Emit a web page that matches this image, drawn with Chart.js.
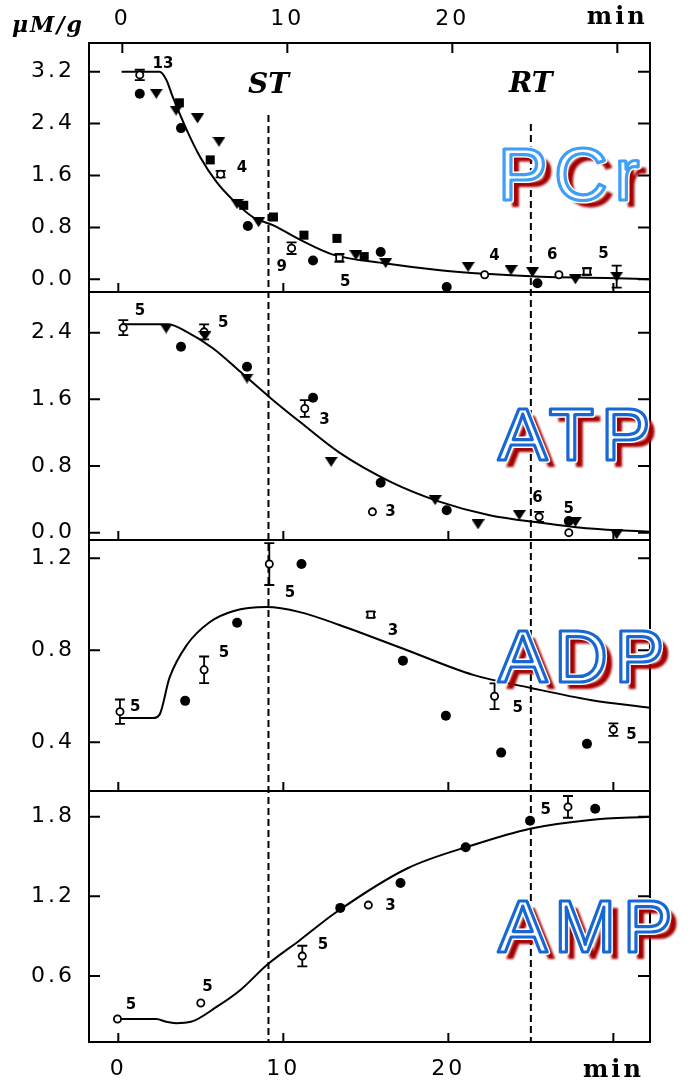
<!DOCTYPE html>
<html>
<head>
<meta charset="utf-8">
<script src="https://cdn.jsdelivr.net/npm/chart.js@4"></script>
<style>
  html, body { margin: 0; padding: 0; background: #fff; }
  #chart { display: block; }
</style>
</head>
<body>
<canvas id="chart" width="698" height="1083"></canvas>
<script>
// --- time axis (min) ---
const timeTicks = [0, 10, 20, 30];
const markerNames = ['ST', 'RT'];
const markerTimes = [9.1, 25.0];

// --- PCr ---
const pcrTicks = [0.0, 0.8, 1.6, 2.4, 3.2];
const pcrFilledCircles = [[1.3, 2.86], [3.8, 2.33], [7.85, 0.82], [11.8, 0.29], [15.9, 0.42], [19.9, -0.12], [25.4, -0.06]];
const pcrOpenCircles = [[1.3, 3.15], [6.2, 1.62], [10.5, 0.48], [22.2, 0.07], [26.7, 0.07]];
const pcrOpenSquares = [[13.4, 0.33], [28.4, 0.12]];
const pcrTriangles = [[2.3, 2.86], [3.5, 2.6], [4.8, 2.48], [6.1, 2.12], [7.2, 1.16], [8.5, 0.88], [14.4, 0.37], [16.2, 0.25], [21.2, 0.19], [23.8, 0.14], [25.1, 0.11], [27.7, 0.0], [30.2, 0.04]];
const pcrFilledSquares = [[3.7, 2.72], [5.57, 1.84], [7.6, 1.14], [9.4, 0.96], [11.25, 0.68], [13.25, 0.63], [14.9, 0.35]];
const pcrErrors = [[1.3, 3.15, 0.08], [6.2, 1.62, 0.05], [10.5, 0.48, 0.09], [13.4, 0.33, 0.06], [28.4, 0.12, 0.05], [30.2, 0.04, 0.17]];
const pcrCounts = [[2.71, 3.32, '13'], [7.49, 1.71, '4'], [9.9, 0.19, '9'], [13.75, -0.04, '5'], [22.8, 0.35, '4'], [26.3, 0.37, '6'], [29.4, 0.39, '5']];
const pcrFitTime = [0.2, 2.5, 2.9, 3.3, 4.15, 4.95, 5.95, 6.95, 8.15, 9.4, 11.0, 13.0, 16.0, 19.5, 22.5, 25.6, 29.6, 32.2];
const pcrFitValue = [3.2, 3.2, 3.08, 2.81, 2.30, 1.89, 1.50, 1.22, 0.96, 0.83, 0.61, 0.38, 0.25, 0.14, 0.08, 0.04, 0.02, 0.0];

// --- ATP ---
const atpTicks = [0.0, 0.8, 1.6, 2.4];
const atpFilledCircles = [[3.8, 2.23], [7.8, 1.99], [11.8, 1.62], [15.9, 0.60], [19.9, 0.27], [27.3, 0.14]];
const atpOpenCircles = [[0.3, 2.46], [5.2, 2.41], [11.3, 1.49], [15.4, 0.25], [25.5, 0.19], [27.3, 0.0]];
const atpTriangles = [[2.9, 2.45], [5.25, 2.36], [7.8, 1.85], [12.9, 0.85], [19.2, 0.39], [21.8, 0.10], [24.3, 0.21], [27.7, 0.13], [30.2, -0.02]];
const atpErrors = [[0.3, 2.46, 0.09], [5.2, 2.41, 0.09], [11.3, 1.49, 0.1], [25.5, 0.19, 0.06]];
const atpCounts = [[1.32, 2.66, '5'], [6.35, 2.52, '5'], [12.5, 1.35, '3'], [16.5, 0.25, '3'], [25.4, 0.42, '6'], [27.3, 0.28, '5']];
const atpFitTime = [0.2, 3.0, 4.15, 5.75, 7.4, 9.2, 11.0, 13.4, 16.5, 19.5, 22.5, 25.6, 28.6, 32.2];
const atpFitValue = [2.50, 2.50, 2.41, 2.21, 1.93, 1.62, 1.33, 0.96, 0.61, 0.37, 0.21, 0.12, 0.05, 0.01];

// --- ADP ---
const adpTicks = [0.4, 0.8, 1.2];
const adpFilledCircles = [[4.05, 0.58], [7.2, 0.92], [11.1, 1.175], [17.25, 0.755], [19.85, 0.515], [23.2, 0.355], [28.4, 0.393]];
const adpOpenCircles = [[0.1, 0.533], [5.2, 0.715], [9.15, 1.175], [22.8, 0.60], [30.0, 0.455]];
const adpOpenSquares = [[15.3, 0.955]];
const adpErrors = [[0.1, 0.533, 0.053], [5.2, 0.715, 0.058], [9.15, 1.175, 0.091], [15.3, 0.955, 0.012], [22.8, 0.60, 0.056], [30.0, 0.455, 0.027]];
const adpCounts = [[1.02, 0.553, '5'], [6.4, 0.788, '5'], [10.4, 1.049, '5'], [16.65, 0.884, '3'], [24.2, 0.55, '5'], [31.1, 0.432, '5']];
const adpFitTime = [0.1, 2.1, 2.5, 3.1, 4.15, 5.55, 6.95, 9.0, 11.0, 13.4, 17.5, 21.5, 24.95, 28.6, 32.2];
const adpFitValue = [0.505, 0.505, 0.52, 0.68, 0.823, 0.923, 0.97, 0.988, 0.966, 0.91, 0.80, 0.693, 0.637, 0.584, 0.55];

// --- AMP ---
const ampTicks = [0.6, 1.2, 1.8];
const ampFilledCircles = [[13.45, 1.113], [17.1, 1.30], [21.05, 1.57], [24.95, 1.77], [28.9, 1.86]];
const ampOpenCircles = [[-0.05, 0.276], [5.0, 0.397], [11.15, 0.75], [15.15, 1.134], [27.25, 1.874]];
const ampErrors = [[11.15, 0.75, 0.078], [27.25, 1.874, 0.082]];
const ampCounts = [[0.77, 0.382, '5'], [5.4, 0.517, '5'], [12.4, 0.834, '5'], [16.5, 1.128, '3'], [25.9, 1.85, '5']];
const ampFitTime = [0, 2.3, 2.9, 3.5, 4.4, 5.95, 7.4, 9.0, 11.0, 13.2, 17.5, 21.5, 24.95, 28.6, 32.2];
const ampFitValue = [0.276, 0.276, 0.255, 0.245, 0.255, 0.367, 0.495, 0.683, 0.87, 1.08, 1.41, 1.587, 1.71, 1.776, 1.80];

// flattened downward triangle used as a point image
function downTriangle(w, h) {
  const c = document.createElement('canvas');
  c.width = w; c.height = h;
  const g = c.getContext('2d');
  g.fillStyle = '#000';
  g.beginPath();
  g.moveTo(0, 0); g.lineTo(w, 0); g.lineTo(w / 2, h); g.closePath();
  g.fill();
  return c;
}
const triangleImg = downTriangle(13, 10);

const toPoints = rows => rows.map(r => ({ x: r[0], y: r[1] }));

// marker styles
const styles = {
  filledCircle: { pointStyle: 'circle', pointRadius: 5, pointBackgroundColor: '#000', pointBorderColor: '#000', pointBorderWidth: 0 },
  openCircle: { pointStyle: 'circle', pointRadius: 3.6, pointBackgroundColor: '#fff', pointBorderColor: '#000', pointBorderWidth: 1.8 },
  filledSquare: { pointStyle: 'rect', pointRadius: 6.4, pointBackgroundColor: '#000', pointBorderColor: '#000', pointBorderWidth: 0 },
  openSquare: { pointStyle: 'rect', pointRadius: 4.6, pointBackgroundColor: '#fff', pointBorderColor: '#000', pointBorderWidth: 1.8 },
  triangle: { pointStyle: triangleImg, pointRadius: 6 }
};

function markers(rows, yAxisID, style) {
  return Object.assign({ type: 'scatter', data: toPoints(rows), yAxisID, xAxisID: 'x', order: 0 }, styles[style]);
}

function fitLine(times, values, yAxisID) {
  return {
    type: 'line', yAxisID, xAxisID: 'x', order: 1,
    data: times.map((t, i) => ({ x: t, y: values[i] })),
    borderColor: '#000', borderWidth: 2, pointRadius: 0,
    cubicInterpolationMode: 'monotone', fill: false
  };
}

const panels = [
  { id: 'yPCr', name: 'PCr', blue: '#3f9ef6', errors: pcrErrors, counts: pcrCounts, tagLift: 92 },
  { id: 'yATP', name: 'ATP', blue: '#1768d4', errors: atpErrors, counts: atpCounts, tagLift: 80 },
  { id: 'yADP', name: 'ADP', blue: '#1768d4', errors: adpErrors, counts: adpCounts, tagLift: 109 },
  { id: 'yAMP', name: 'AMP', blue: '#1768d4', errors: ampErrors, counts: ampCounts, tagLift: 90 }
];

const datasets = [
  fitLine(pcrFitTime, pcrFitValue, 'yPCr'),
  markers(pcrFilledCircles, 'yPCr', 'filledCircle'),
  markers(pcrTriangles, 'yPCr', 'triangle'),
  markers(pcrFilledSquares, 'yPCr', 'filledSquare'),
  markers(pcrOpenCircles, 'yPCr', 'openCircle'),
  markers(pcrOpenSquares, 'yPCr', 'openSquare'),

  fitLine(atpFitTime, atpFitValue, 'yATP'),
  markers(atpFilledCircles, 'yATP', 'filledCircle'),
  markers(atpTriangles, 'yATP', 'triangle'),
  markers(atpOpenCircles, 'yATP', 'openCircle'),

  fitLine(adpFitTime, adpFitValue, 'yADP'),
  markers(adpFilledCircles, 'yADP', 'filledCircle'),
  markers(adpOpenCircles, 'yADP', 'openCircle'),
  markers(adpOpenSquares, 'yADP', 'openSquare'),

  fitLine(ampFitTime, ampFitValue, 'yAMP'),
  markers(ampFilledCircles, 'yAMP', 'filledCircle'),
  markers(ampOpenCircles, 'yAMP', 'openCircle')
];

const numFont = { family: '"DejaVu Sans"', size: 22 };
const minFont = { family: '"DejaVu Serif"', size: 24, weight: 'bold' };

// one vertical axis per panel, all stacked on the left
function panelAxis(min, max, ticks, stackWeight, weight) {
  return {
    type: 'linear', position: 'left', stack: 'panels', stackWeight, weight,
    min, max,
    afterBuildTicks: s => { s.ticks = ticks.map(v => ({ value: v })); },
    afterFit: s => { s.width = 89; },
    grid: { display: false, drawTicks: false },
    border: { display: false },
    ticks: { font: numFont, color: '#000', padding: 14, callback: v => v.toFixed(1) }
  };
}

function timeAxis(position, height, padding, min, max) {
  return {
    type: 'linear', position, min, max,
    afterBuildTicks: s => { s.ticks = timeTicks.map(v => ({ value: v })); },
    afterFit: s => { s.height = height; },
    grid: { display: false, drawTicks: false },
    border: { display: false },
    ticks: {
      color: '#000', padding, maxRotation: 0, autoSkip: false,
      font: ctx => (ctx.tick && ctx.tick.value === 30 ? minFont : numFont),
      callback: v => (v === 30 ? 'min' : String(v))
    }
  };
}

const figurePlugin = {
  id: 'figure',
  beforeDraw(chart) {
    chart.ctx.letterSpacing = '3px'; // wide axis numerals
  },
  beforeDatasetsDraw(chart) {
    const { ctx, chartArea, scales } = chart;
    ctx.letterSpacing = '0px';
    const x = scales.x;

    // dashed ST / RT lines
    ctx.save();
    ctx.strokeStyle = '#000';
    ctx.lineWidth = 2;
    ctx.setLineDash([7, 4]);
    const starts = [72, 81];
    markerTimes.forEach((t, i) => {
      const px = x.getPixelForValue(t);
      ctx.beginPath();
      ctx.moveTo(px, chartArea.top + starts[i]);
      ctx.lineTo(px, chartArea.bottom);
      ctx.stroke();
    });
    ctx.restore();

    // error bars (drawn under the markers)
    ctx.save();
    ctx.strokeStyle = '#000';
    ctx.lineWidth = 1.8;
    panels.forEach(p => {
      const y = scales[p.id];
      p.errors.forEach(([t, v, e]) => {
        const px = x.getPixelForValue(t);
        const y1 = y.getPixelForValue(v + e);
        const y2 = y.getPixelForValue(v - e);
        ctx.beginPath();
        ctx.moveTo(px, y1); ctx.lineTo(px, y2);
        ctx.moveTo(px - 5, y1); ctx.lineTo(px + 5, y1);
        ctx.moveTo(px - 5, y2); ctx.lineTo(px + 5, y2);
        ctx.stroke();
      });
    });
    ctx.restore();
  },
  beforeDatasetDraw(chart, args) {
    // keep each dataset inside its own panel
    const { ctx, chartArea } = chart;
    const y = chart.scales[args.meta.yAxisID];
    ctx.save();
    ctx.beginPath();
    ctx.rect(chartArea.left, y.top, chartArea.right - chartArea.left, y.bottom - y.top);
    ctx.clip();
  },
  afterDatasetDraw(chart) {
    chart.ctx.restore();
  },
  afterDatasetsDraw(chart) {
    const { ctx, chartArea, scales } = chart;
    const x = scales.x;
    const xTop = scales.x2;
    ctx.save();
    ctx.strokeStyle = '#000';
    ctx.lineWidth = 2;
    panels.forEach((p, i) => {
      const y = scales[p.id];
      // panel frame
      ctx.strokeRect(chartArea.left, y.top, chartArea.right - chartArea.left, y.bottom - y.top);
      // inward ticks
      ctx.beginPath();
      y.ticks.forEach(tk => {
        const py = y.getPixelForValue(tk.value);
        ctx.moveTo(chartArea.left, py); ctx.lineTo(chartArea.left + 11, py);
        ctx.moveTo(chartArea.right, py); ctx.lineTo(chartArea.right - 12, py);
      });
      timeTicks.forEach(t => {
        const px = x.getPixelForValue(t);
        ctx.moveTo(px, y.bottom); ctx.lineTo(px, y.bottom - 9);
        if (i === 0) {
          const pt = xTop.getPixelForValue(t);
          ctx.moveTo(pt, y.top); ctx.lineTo(pt, y.top + 10);
        }
      });
      ctx.stroke();

      // sample sizes
      ctx.fillStyle = '#000';
      ctx.font = 'bold 15px "DejaVu Sans"';
      ctx.textAlign = 'center';
      ctx.textBaseline = 'middle';
      p.counts.forEach(([t, v, n]) => {
        ctx.fillText(n, x.getPixelForValue(t), y.getPixelForValue(v));
      });
    });
    ctx.restore();
  },
  afterDraw(chart) {
    const { ctx, chartArea, scales } = chart;
    const x = scales.x;
    ctx.save();

    // unit label
    ctx.fillStyle = '#000';
    ctx.font = 'italic bold 22px "DejaVu Serif"';
    ctx.letterSpacing = '2px';
    ctx.textAlign = 'left';
    ctx.textBaseline = 'alphabetic';
    ctx.fillText('\u03bcM/g', 12, 32);

    // ST / RT
    ctx.font = 'italic bold 28px "DejaVu Serif"';
    ctx.letterSpacing = '0px';
    ctx.textAlign = 'center';
    const baselines = [50, 49];
    markerNames.forEach((name, i) => {
      ctx.fillText(name, x.getPixelForValue(markerTimes[i]), chartArea.top + baselines[i]);
    });

    // metabolite tags: red drop shadow, white body, blue outline
    ctx.font = '74px "Liberation Sans"';
    ctx.letterSpacing = '7px';
    ctx.textAlign = 'left';
    ctx.lineJoin = 'round';
    panels.forEach(p => {
      const y = scales[p.id];
      const bx = 498, by = y.bottom - p.tagLift;
      ctx.filter = 'blur(1px)';
      ctx.fillStyle = '#a50000';
      ctx.fillText(p.name, bx + 8, by + 7);
      ctx.filter = 'none';
      ctx.strokeStyle = '#fff';
      ctx.lineWidth = 6;
      ctx.strokeText(p.name, bx, by);
      ctx.fillStyle = '#fff';
      ctx.fillText(p.name, bx, by);
      ctx.strokeStyle = p.blue;
      ctx.lineWidth = 3.2;
      ctx.strokeText(p.name, bx, by);
    });
    ctx.restore();
  }
};

new Chart(document.getElementById('chart'), {
  type: 'scatter',
  data: { datasets },
  options: {
    responsive: false,
    animation: false,
    devicePixelRatio: 1,
    layout: { padding: { left: 0, right: 48, top: 0, bottom: 0 } },
    plugins: { legend: { display: false }, tooltip: { enabled: false } },
    scales: {
      x: timeAxis('bottom', 41, 14, -1.776, 32.22),
      x2: timeAxis('top', 43, 11, -2.02, 31.98),
      yPCr: panelAxis(-0.196, 3.642, pcrTicks, 249, 4),
      yATP: panelAxis(-0.088, 2.888, atpTicks, 248, 3),
      yADP: panelAxis(0.188, 1.2796, adpTicks, 251, 2),
      yAMP: panelAxis(0.103, 1.9936, ampTicks, 251, 1)
    }
  },
  plugins: [figurePlugin]
});
</script>
</body>
</html>
